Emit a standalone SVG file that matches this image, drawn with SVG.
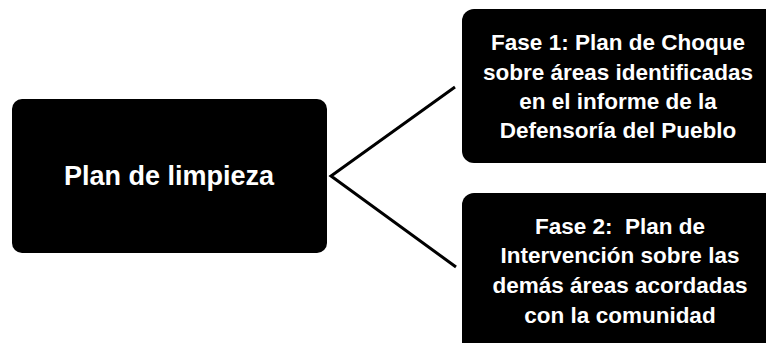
<svg xmlns="http://www.w3.org/2000/svg" width="766" height="343" viewBox="0 0 766 343">
<style>
.box{fill:#000;}
.t{fill:#fff;font-family:"Liberation Sans",Arial,sans-serif;font-weight:bold;text-anchor:middle;}
.c{fill:none;stroke:#000;stroke-width:3;stroke-linejoin:miter;}
</style>
<rect width="766" height="343" fill="#fff"/>
<g id="plan-limpieza">
<rect class="box" x="12" y="99" width="315" height="154" rx="10"/>
<text class="t" x="169" y="185" font-size="27">Plan de limpieza</text>
</g>
<g id="fase1">
<rect class="box" x="462" y="9" width="320" height="154" rx="12"/>
<text class="t" font-size="22.5"><tspan x="618" y="50">Fase 1: Plan de Choque</tspan><tspan x="618" y="80">sobre áreas identificadas</tspan><tspan x="618" y="109">en el informe de la</tspan><tspan x="618" y="138">Defensoría del Pueblo</tspan></text>
</g>
<g id="fase2">
<rect class="box" x="462" y="193" width="320" height="170" rx="12"/>
<text class="t" font-size="22.5" xml:space="preserve"><tspan x="620" y="234">Fase 2:  Plan de</tspan><tspan x="620" y="263">Intervención sobre las</tspan><tspan x="620" y="293">demás áreas acordadas</tspan><tspan x="620" y="323">con la comunidad</tspan></text>
</g>
<g id="connectors">
<path class="c" d="M455 87 L331 176 L456 267"/>
</g>
</svg>
